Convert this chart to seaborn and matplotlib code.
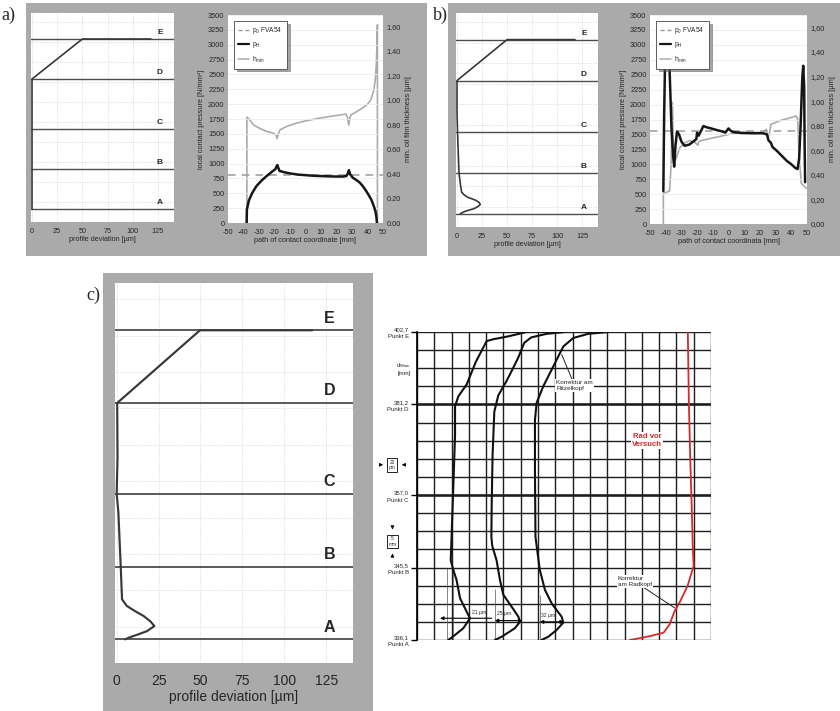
import matplotlib
matplotlib.use('Agg')
import matplotlib.pyplot as plt
from matplotlib.patches import Rectangle
from matplotlib.lines import Line2D
import seaborn as sns

# ---------------- data ----------------
point_names = ['A', 'B', 'C', 'D', 'E']
point_pos = [0, 4, 8, 13, 17]          # rows of the measuring points
point_diam = ['336,1', '345,5', '357,0', '381,2', '402,7']
dev_ticks = [0, 25, 50, 75, 100, 125]

# profile deviation (µm) vs. position
a_dev = [118, 50, 0, 0]
a_pos = [17, 17, 13, 0]
b_dev = [118, 50, 0, 0, 0.5, 2, 3.5, 4.6, 7, 10.7, 15, 19, 22, 23.3, 21, 17.3, 12, 7.3, 3.3]
b_pos = [17, 17, 13, 10, 8, 4, 2.8, 2.1, 1.85, 1.6, 1.45, 1.3, 1.1, 0.9, 0.7, 0.5, 0.35, 0.2, 0]
c_dev = [116.6, 49.7, 0.3, 0.5, 0, 1, 2.4, 3.2, 6, 11, 16, 20, 22.5, 18, 13, 8, 5]
c_pos = [17, 17, 13, 10, 8, 7, 4.05, 2.2, 1.84, 1.55, 1.29, 1.0, 0.73, 0.45, 0.28, 0.12, 0]

# a) contact pressure and film thickness
a_p0 = 810
a_px = [-38.0, -37.8, -36.5, -34.5, -31.7, -28.5, -25.3, -22, -19.5, -18.2, -17.5, -16.7, -13, -9, -5, 0,
        5, 10, 15, 20, 24, 26.3, 27.3, 28.0, 28.8, 30.6, 33, 35, 37, 39, 41, 42.5, 44, 45.2, 45.8, 46.1]
a_pp = [0, 230, 380, 500, 620, 710, 785, 855, 905, 975, 925, 875, 850, 830, 815, 805,
        795, 790, 785, 782, 782, 790, 830, 890, 820, 760, 720, 680, 620, 545, 460, 390, 290, 190, 90, 0]
a_hx = [-37.8, -37.8, -36.5, -33.4, -29, -24.9, -21, -19, -18.3, -17.5, -16.4, -12, -5.7, 0, 9.1, 18,
        26.2, 27.2, 27.9, 28.6, 29.4, 33, 36.8, 40, 42.1, 44, 45, 45.7, 46.1, 46.4, 46.4]
a_hh = [0, 0.865, 0.85, 0.80, 0.77, 0.748, 0.735, 0.72, 0.69, 0.73, 0.762, 0.79, 0.816, 0.835, 0.857, 0.875,
        0.89, 0.86, 0.80, 0.86, 0.884, 0.91, 0.94, 0.97, 1.007, 1.08, 1.17, 1.30, 1.45, 1.62, 0]

# b) contact pressure and film thickness
b_p0 = 1560
b_px = [-41.5, -41.0, -40.3, -39.3, -38.3, -37.3, -36.3, -35.3, -34.6, -33.8, -32.8, -31.5, -30, -28, -25,
        -22, -20.5, -20, -19, -17.5, -16, -14, -11, -7, -4, -2, 0, 1.5, 3, 8, 15, 22, 24.5, 25.5, 27,
        28, 31, 34, 37, 40, 42.5, 44, 45, 46, 47, 47.6, 48.2, 48.5, 48.8]
b_pp = [550, 1800, 2900, 3250, 3100, 2400, 1600, 1150, 960, 1300, 1550, 1500, 1380, 1310, 1330,
        1390, 1420, 1530, 1480, 1560, 1640, 1620, 1600, 1570, 1550, 1530, 1600, 1560, 1540, 1525, 1520, 1520,
        1500, 1400, 1360, 1290, 1220, 1140, 1060, 1000, 940, 920, 1100, 1700, 2450, 2650, 2300, 1300, 700]
b_hx = [-41.5, -41.5, -39, -37.5, -36.5, -35.8, -35.3, -34.8, -33.5, -31, -28, -24.6, -21, -19.5, -19, -17,
        -10, 0.8, 9, 22, 24, 25, 26, 27, 32.6, 37, 41, 43, 44, 45, 46.4, 49.6]
b_hh = [0, 0.25, 0.26, 0.27, 0.5, 0.99, 0.75, 0.47, 0.53, 0.62, 0.66, 0.68, 0.66, 0.64, 0.67, 0.68,
        0.70, 0.73, 0.745, 0.745, 0.77, 0.70, 0.73, 0.81, 0.84, 0.855, 0.87, 0.88, 0.86, 0.55, 0.33, 0.29]

# c) measured profile chart (grid columns / rows)
g1_x = [6.34, 5.28, 4.41, 4.03, 3.4, 2.87, 2.39, 2.2, 2.2, 2.1, 2.0, 1.95, 2.1, 2.29, 2.49, 2.77, 3.06, 2.68, 2.2, 1.81]
g1_y = [17, 16.76, 16.6, 16.5, 15.35, 14.1, 13.45, 12.9, 11.3, 8.5, 5.7, 4.4, 3.87, 3.3, 2.3, 1.76, 1.2, 0.65, 0.28, 0]
g2_x = [8.55, 7.5, 6.6, 6.2, 5.86, 5.5, 5.18, 4.7, 4.47, 4.37, 4.32, 4.3, 4.35, 4.6, 4.8, 4.99, 5.47, 5.86, 5.95, 5.66, 4.9, 4.5]
g2_y = [17, 16.9, 16.7, 16.4, 15.6, 14.9, 14.3, 13.5, 12.6, 10.2, 7.55, 5.7, 5.2, 4.4, 3.3, 2.5, 1.84, 1.29, 1.0, 0.65, 0.18, 0]
g3_x = [11.06, 9.9, 9.04, 8.46, 7.88, 7.3, 6.92, 6.82, 6.82, 6.85, 7.0, 7.1, 7.4, 7.8, 8.36, 8.46, 8.07, 7.59, 7.2]
g3_y = [17, 16.9, 16.67, 16.2, 15.1, 14.0, 13.1, 12.15, 9.4, 5.7, 4.6, 3.87, 2.76, 2.0, 1.29, 0.96, 0.55, 0.18, 0]
red_x = [15.66, 15.72, 15.8, 15.88, 15.95, 16.0, 15.65, 15.2, 14.9, 14.6, 14.25, 13.4, 12.6, 12.3]
red_y = [17, 13.1, 10, 7.5, 5, 4.1, 3.0, 2.1, 1.6, 0.85, 0.4, 0.2, 0.05, 0]

# ---------------- style ----------------
sns.set_theme(style='white')
plt.rcParams['font.family'] = ['Liberation Sans', 'DejaVu Sans']
plt.rcParams['axes.unicode_minus'] = False
plt.rcParams['mathtext.fontset'] = 'custom'
plt.rcParams['mathtext.rm'] = 'Liberation Sans'
plt.rcParams['mathtext.it'] = 'Liberation Sans'

GRAY = '#aaaaaa'
W, H = 840, 711
fig = plt.figure(figsize=(8.4, 7.11), dpi=100)
fig.patch.set_facecolor('white')


def box(l, t, r, b):
    return [l / W, 1 - b / H, (r - l) / W, (b - t) / H]


def panel(l, t, r, b):
    fig.add_artist(Rectangle((l / W, 1 - b / H), (r - l) / W, (b - t) / H,
                             transform=fig.transFigure, facecolor=GRAY, edgecolor='none', zorder=0))


def profile_plot(rect, dev, pos, fs_tick, fs_pt, lw):
    ax = fig.add_axes(rect)
    ax.set_facecolor('white')
    for name, y in zip(point_names, point_pos):
        ax.axhline(y, color='#4d4d4d', lw=lw, zorder=2)
        ax.text(127, y + 0.25, name, ha='center', va='bottom', fontweight='bold', fontsize=fs_pt)
    sns.lineplot(x=dev, y=pos, sort=False, estimator=None, ax=ax, color='#383838', lw=lw * 1.2, zorder=3)
    ax.set_xlim(-1, 141)
    ax.set_ylim(-1.3, 19.6)
    ax.set_xticks(dev_ticks)
    ax.set_yticks([0.7 + 2 * k for k in range(10)])
    ax.set_yticklabels([])
    ax.grid(True, ls=':', color='#cfcfcf', lw=0.6)
    ax.tick_params(length=0, labelsize=fs_tick, pad=fs_tick * 0.8)
    ax.set_xlabel('profile deviation [µm]', fontsize=fs_tick, labelpad=1)
    ax.set_ylabel('')
    for s in ax.spines.values():
        s.set_visible(False)
    return ax


def pressure_plot(rect, px, pp, hx, hh, p0, dec, xlab):
    ax = fig.add_axes(rect)
    ax2 = ax.twinx()
    ax2.patch.set_visible(True)
    ax2.set_facecolor('white')
    ax.set_zorder(ax2.get_zorder() + 1)
    ax.patch.set_visible(False)
    ax.set_yticks(range(0, 3501, 250))
    ax.grid(True, axis='y', color='#ececec', lw=0.6)
    ax.axhline(p0, ls=(0, (5, 4)), color='#9a9a9a', lw=1.1)
    sns.lineplot(x=hx, y=hh, sort=False, estimator=None, ax=ax2, color='#ababab', lw=1.2)
    sns.lineplot(x=px, y=pp, sort=False, estimator=None, ax=ax, color='#161616', lw=1.8)
    ax.set_xlim(-50, 50)
    ax.set_ylim(0, 3500)
    ax2.set_ylim(0, 1.70)
    ax.set_xticks(range(-50, 51, 10))
    ax2.set_yticks([0.2 * k for k in range(9)])
    ax2.set_yticklabels([f'{0.2 * k:.2f}'.replace('.', dec) for k in range(9)])
    for a in (ax, ax2):
        a.tick_params(length=0, labelsize=5.3, pad=2.5)
        for s in a.spines.values():
            s.set_visible(False)
    ax.tick_params(axis='x', pad=4)
    ax.set_xlabel(xlab, fontsize=5.3, labelpad=1)
    ax.set_ylabel('local contact pressure [N/mm²]', fontsize=5.3, labelpad=2)
    ax2.set_ylabel('min. oil film thickness [µm]', fontsize=5.3, labelpad=3)
    handles = [Line2D([], [], ls=(0, (3, 2)), color='#9a9a9a', lw=1.0),
               Line2D([], [], color='#161616', lw=1.6),
               Line2D([], [], color='#ababab', lw=1.1)]
    leg = ax.legend(handles, ['$p_0$ FVA54', '$p_H$', '$h_{min}$'], loc='upper left',
                    bbox_to_anchor=(0.02, 0.985), fontsize=4.8, frameon=True, fancybox=False,
                    shadow=True, handlelength=1.6, borderpad=0.6, labelspacing=0.6, handletextpad=0.5)
    leg.get_frame().set_edgecolor('#444444')
    leg.get_frame().set_linewidth(0.6)
    return ax


# ---------------- panels a) and b) ----------------
panel(26, 3, 427, 256)
panel(448, 3, 840, 256)
panel(103, 273, 373, 711)
fig.text(1 / W, 1 - 15 / H, 'a)', fontsize=13, family='Liberation Serif', va='center')
fig.text(433 / W, 1 - 15 / H, 'b)', fontsize=13, family='Liberation Serif', va='center')
fig.text(86 / W, 1 - 295 / H, 'c)', fontsize=13, family='Liberation Serif', va='center')

profile_plot(box(31, 13, 174, 222), a_dev, a_pos, 5.2, 6, 1.0)
profile_plot(box(456, 13, 598, 227), b_dev, b_pos, 5.2, 6, 1.0)
pressure_plot(box(228, 15, 383, 223), a_px, a_pp, a_hx, a_hh, a_p0, '.', 'path of contact coordinate [mm]')
pressure_plot(box(650, 15, 807, 224), b_px, b_pp, b_hx, b_hh, b_p0, ',', 'path of contact coordinata [mm]')

# ---------------- panel c) ----------------
profile_plot(box(115, 283, 353, 663), c_dev, c_pos, 10, 11.5, 1.3)

axg = fig.add_axes(box(417, 332, 711, 640))
axg.set_facecolor('white')
for c in range(18):
    axg.axvline(c, color='#1e1e1e', lw=1.0, zorder=1)
for r in range(18):
    axg.axhline(r, color='#1e1e1e', lw=1.9 if r in (8, 13) else 1.0, zorder=1)
for gx, gy in ((g1_x, g1_y), (g2_x, g2_y), (g3_x, g3_y)):
    sns.lineplot(x=gx, y=gy, sort=False, estimator=None, ax=axg, color='#111111', lw=1.5, zorder=4)
sns.lineplot(x=red_x, y=red_y, sort=False, estimator=None, ax=axg, color='#d42a2a', lw=1.3, zorder=4)
axg.set_xlim(0, 17)
axg.set_ylim(0, 17)
axg.set_xticks([])
axg.set_yticks(point_pos)
axg.set_yticklabels([f'{d}\nPunkt {n}' for d, n in zip(point_diam, point_names)],
                    fontsize=4.3, linespacing=1.5)
axg.tick_params(axis='y', length=4, width=1.0, color='black', direction='out', pad=2, left=True)
for s in axg.spines.values():
    s.set_visible(False)
axg.spines['left'].set_visible(True)
axg.spines['left'].set_color('black')
axg.set_xlabel('')
axg.set_ylabel('')
axg.text(-0.35, 15.0, 'd$_{Waw}$\n[mm]', ha='right', va='center', fontsize=4.3, linespacing=1.3)

# scale boxes left of the chart
axg.text(-1.42, 9.67, '20\nµm', ha='center', va='center', fontsize=3.4, linespacing=1.1, clip_on=False,
         bbox=dict(boxstyle='square,pad=0.35', fc='white', ec='black', lw=0.6))
axg.text(-1.42, 5.44, '5\nmm', ha='center', va='center', fontsize=3.4, linespacing=1.1, clip_on=False,
         bbox=dict(boxstyle='square,pad=0.35', fc='white', ec='black', lw=0.6))
arr = dict(arrowstyle='-|>', color='black', lw=0.6, mutation_scale=5)
axg.annotate('', xy=(-1.8, 9.67), xytext=(-2.3, 9.67), arrowprops=arr, annotation_clip=False)
axg.annotate('', xy=(-1.04, 9.67), xytext=(-0.55, 9.67), arrowprops=arr, annotation_clip=False)
axg.annotate('', xy=(-1.42, 5.95), xytext=(-1.42, 6.35), arrowprops=arr, annotation_clip=False)
axg.annotate('', xy=(-1.42, 4.93), xytext=(-1.42, 4.5), arrowprops=arr, annotation_clip=False)

# annotations inside the chart
wbox = dict(boxstyle='square,pad=0.15', fc='white', ec='none')
line = dict(arrowstyle='-', color='#222222', lw=0.7, shrinkA=0, shrinkB=0)
axg.annotate('Korrektur am\nRitzelkopf', xy=(8.37, 15.75), xytext=(8.05, 14.05), fontsize=4.6,
             ha='left', va='center', bbox=wbox, arrowprops=line, zorder=5)
axg.annotate('Korrektur\nam Radkopf', xy=(14.9, 1.77), xytext=(11.6, 3.23), fontsize=4.6,
             ha='left', va='center', bbox=wbox, arrowprops=line, zorder=5)
axg.text(13.3, 11.0, 'Rad vor\nVersuch', color='#d42a2a', fontweight='bold', fontsize=5.6,
         ha='center', va='center', bbox=wbox, zorder=5)

axg.vlines([1.73, 2.08], 0, 4, color='#555555', lw=0.5, zorder=3)
axg.vlines([4.5], 0, 2.8, color='#555555', lw=0.5, zorder=3)
axg.vlines([7.1], 0, 2.5, color='#555555', lw=0.5, zorder=3)
harr = dict(arrowstyle='-|>', color='black', lw=0.8, mutation_scale=5, shrinkA=0, shrinkB=0)
axg.annotate('', xy=(1.33, 1.2), xytext=(4.32, 1.2), arrowprops=harr, zorder=5)
axg.annotate('', xy=(4.5, 1.07), xytext=(6.1, 1.07),
             arrowprops=dict(harr, arrowstyle='<|-|>'), zorder=5)
axg.annotate('', xy=(7.1, 1.0), xytext=(8.5, 1.0),
             arrowprops=dict(harr, arrowstyle='<|-|>'), zorder=5)
axg.text(3.2, 1.5, '21 µm', fontsize=3.6, ha='left', va='center', zorder=5)
axg.text(4.6, 1.45, '25 µm', fontsize=3.6, ha='left', va='center', zorder=5)
axg.text(7.15, 1.35, '32 µm', fontsize=3.6, ha='left', va='center', zorder=5)

fig.savefig('out.png', dpi=100, facecolor='white')
